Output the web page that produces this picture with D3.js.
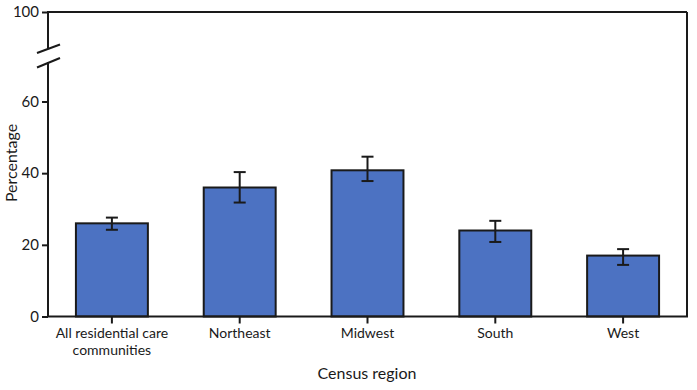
<!DOCTYPE html>
<html>
<head>
<meta charset="utf-8">
<script src="https://cdn.jsdelivr.net/npm/d3@7"></script>
<style>
body{margin:0;background:#fff;}
text{font-family:Lato,"Open Sans",sans-serif;fill:#1a1a1a;}
</style>
</head>
<body>
<svg id="chart" width="697" height="390"></svg>
<script>
const categories = ["All residential care communities", "Northeast", "Midwest", "South", "West"];
const values = [26.0, 36.0, 40.8, 24.0, 17.0];
const lower = [24.2, 31.8, 37.8, 20.8, 14.4];
const upper = [27.6, 40.3, 44.6, 26.7, 18.8];
const yTicks = [0, 20, 40, 60, 100];

(function() {
const svg = d3.select("#chart");
const mLeft = 48, mRight = 687, mTop = 12, mBottom = 316.5;

const x = d3.scaleBand().domain(categories).range([mLeft, mRight])
  .paddingInner(0.437).paddingOuter(0.2185);
const y = d3.scaleLinear().domain([0, 60, 100]).range([mBottom, 101.5, mTop]);

// frame top and right
svg.append("line").attr("x1", mLeft).attr("x2", mRight).attr("y1", y(100)).attr("y2", y(100))
  .attr("stroke", "#1a1a1a").attr("stroke-width", 2);
svg.append("line").attr("x1", mRight).attr("x2", mRight).attr("y1", y(100)).attr("y2", mBottom)
  .attr("stroke", "#1a1a1a").attr("stroke-width", 2);

// bars
svg.append("g").selectAll("rect").data(categories).join("rect")
  .attr("x", d => x(d)).attr("width", x.bandwidth())
  .attr("y", (d, i) => y(values[i])).attr("height", (d, i) => mBottom - y(values[i]))
  .attr("fill", "#4c72c2").attr("stroke", "#1a1a1a").attr("stroke-width", 2);

// error bars
const eg = svg.append("g").attr("stroke", "#1a1a1a").attr("stroke-width", 2);
categories.forEach((c, i) => {
  const cx = x(c) + x.bandwidth() / 2;
  eg.append("line").attr("x1", cx).attr("x2", cx).attr("y1", y(upper[i])).attr("y2", y(lower[i]));
  eg.append("line").attr("x1", cx - 6).attr("x2", cx + 6).attr("y1", y(upper[i])).attr("y2", y(upper[i]));
  eg.append("line").attr("x1", cx - 6).attr("x2", cx + 6).attr("y1", y(lower[i])).attr("y2", y(lower[i]));
});

// y axis
const yAxis = svg.append("g").attr("transform", `translate(${mLeft},0)`)
  .call(d3.axisLeft(y).tickValues(yTicks).tickSize(6).tickPadding(3));
yAxis.select(".domain").remove();
yAxis.selectAll(".tick line").attr("stroke", "#1a1a1a").attr("stroke-width", 2);
yAxis.selectAll(".tick text").style("font-size", "15px").attr("fill", "#1a1a1a");
// axis line with break
svg.append("line").attr("x1", mLeft).attr("x2", mLeft).attr("y1", y(100) - 1).attr("y2", 49)
  .attr("stroke", "#1a1a1a").attr("stroke-width", 2);
svg.append("line").attr("x1", mLeft).attr("x2", mLeft).attr("y1", 62).attr("y2", mBottom)
  .attr("stroke", "#1a1a1a").attr("stroke-width", 2);
svg.append("line").attr("x1", 37).attr("x2", 60).attr("y1", 53).attr("y2", 44.5)
  .attr("stroke", "#1a1a1a").attr("stroke-width", 2);
svg.append("line").attr("x1", 37).attr("x2", 60).attr("y1", 67.5).attr("y2", 58)
  .attr("stroke", "#1a1a1a").attr("stroke-width", 2);

// x axis
svg.append("line").attr("x1", mLeft - 1).attr("x2", mRight + 1).attr("y1", mBottom).attr("y2", mBottom)
  .attr("stroke", "#1a1a1a").attr("stroke-width", 2);
const xAxis = svg.append("g").attr("transform", `translate(0,${mBottom})`)
  .call(d3.axisBottom(x).tickSize(7).tickPadding(5));
xAxis.select(".domain").remove();
xAxis.selectAll(".tick line").attr("stroke", "#1a1a1a").attr("stroke-width", 2);
xAxis.selectAll(".tick text").style("font-size", "14px").attr("fill", "#1a1a1a")
  .each(function(d) {
    const t = d3.select(this);
    if (d === "All residential care communities") {
      t.text(null);
      t.append("tspan").attr("x", 0).attr("dy", "0.71em").text("All residential care");
      t.append("tspan").attr("x", 0).attr("dy", "1.2em").text("communities");
    }
  });

svg.append("text").attr("x", 367).attr("y", 379).attr("text-anchor", "middle")
  .style("font-size", "16px").text("Census region");
svg.append("text").attr("transform", "translate(17,163) rotate(-90)").attr("text-anchor", "middle")
  .style("font-size", "16px").text("Percentage");
})();
</script>
</body>
</html>
